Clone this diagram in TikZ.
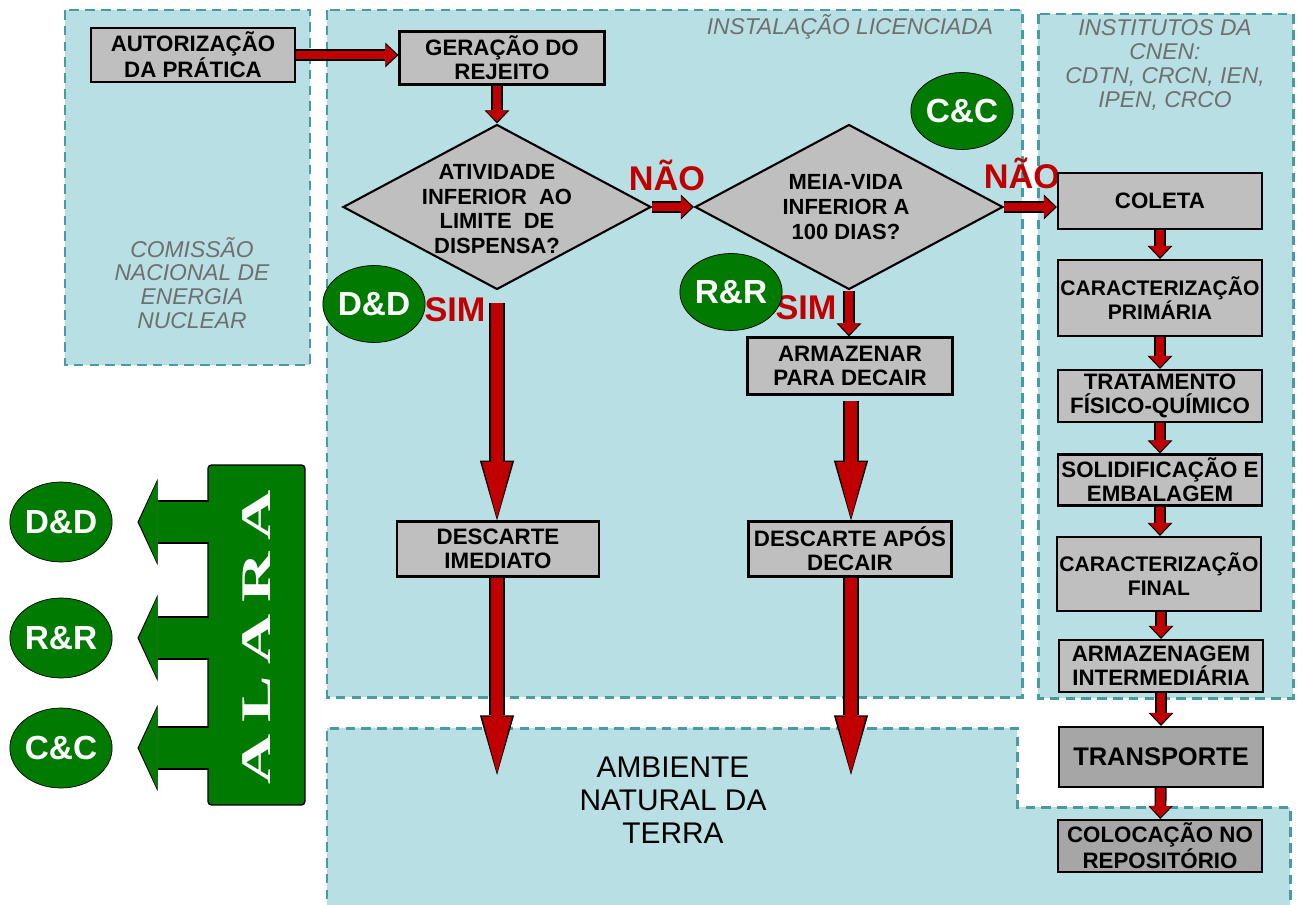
\documentclass[tikz,border=0pt]{standalone}
\usepackage{fontspec}
\setmainfont{Liberation Sans}
\newfontfamily\alarafont{Liberation Serif}
\usepackage{tikz}
\usetikzlibrary{arrows.meta,shapes.geometric,positioning}
\definecolor{zoneFill}{HTML}{B8DFE3}
\definecolor{zoneLine}{HTML}{4A9BA1}
\definecolor{boxGray}{HTML}{BFBFBF}
\definecolor{boxDark}{HTML}{A6A6A6}
\definecolor{flowRed}{HTML}{C00000}
\definecolor{sealGreen}{HTML}{007A00}
\definecolor{noteGray}{HTML}{6F6F6F}

\begin{document}
\begin{tikzpicture}[
  x=0.02cm, y=-0.02cm,
  every node/.style={font=\bfseries},
  zone/.style={draw=zoneLine, fill=zoneFill, line width=1.7pt, dash pattern=on 5.5pt off 3.5pt},
  note/.style={font=\itshape\fontsize{13}{13.6}\selectfont, text=noteGray, align=center},
  box/.style={
    draw=black, fill=boxGray, line width=1.2pt, align=center, inner sep=0pt,
    font=\bfseries\fontsize{12.7}{13.8}\selectfont, minimum width=4.08cm, minimum height=1.08cm,
  },
  narrowtext/.style={font=\bfseries\fontsize{12}{13.8}\selectfont},
  darkbox/.style={box, fill=boxDark},
  decision/.style={
    diamond, draw=black, fill=boxGray, line width=1.2pt, inner sep=0pt,
    minimum width=6.16cm, minimum height=3.3cm,
  },
  dtext/.style={align=center, font=\bfseries\fontsize{12.5}{14}\selectfont},
  seal/.style={
    ellipse, draw=black, fill=sealGreen, text=white, inner sep=0pt,
    font=\bfseries\fontsize{19}{19}\selectfont, minimum width=1.96cm, minimum height=1.54cm,
  },
  answer/.style={text=flowRed, font=\bfseries\fontsize{19.5}{19.5}\selectfont},
  flow/.style={
    draw=flowRed, line width=5pt, -{Triangle[length=6.3pt, width=12pt, line width=0pt]}, shorten >=1pt,
    preaction={draw=black, line width=6.8pt, -{Triangle[length=7.4pt, width=14pt, line width=0pt]}, shorten >=0pt},
  },
  longflow/.style={
    draw=flowRed, line width=7.2pt, -{Triangle[length=32pt, width=17pt, line width=0pt]}, shorten >=1.2pt,
    preaction={draw=black, line width=9pt, -{Triangle[length=34pt, width=19.5pt, line width=0pt]}, shorten >=0pt},
  },
  alarrow/.style={
    draw=sealGreen, line width=22.8pt, -{Triangle[length=10.6pt, width=47pt, line width=0pt]},
    shorten >=#1+0.8pt, shorten <=-1pt,
    preaction={draw=black, line width=24.5pt, -{Triangle[length=11.4pt, width=49pt, line width=0pt]}, shorten >=#1},
  },
  alaratext/.style={rotate=90, text=white, font=\alarafont\bfseries\fontsize{24}{24}\selectfont},
]

\useasboundingbox (0,0) rectangle (1297,905);

% === Zones ===
\draw[zone] (65,10) rectangle (310,365);
\draw[zone] (327,10) rectangle (1022,697);
\draw[zone] (1038,14) rectangle (1293,698);
\draw[zone] (327,915) -- (327,728) -- (1017,728) -- (1017,807) -- (1290,807) -- (1290,915);

\node[note] (cnenlabel) at (192,283) {COMISSÃO\\NACIONAL DE\\ENERGIA\\NUCLEAR};
\node[note] (instlabel) at (850,27) {INSTALAÇÃO LICENCIADA};
\node[note] (instituteslabel) at (1165,65) {INSTITUTOS DA\\CNEN:\\CDTN, CRCN, IEN,\\IPEN, CRCO};
\node[font=\fontsize{17}{18.7}\selectfont, align=center] (earth) at (673,800) {AMBIENTE\\NATURAL DA\\TERRA};

% === Licensed installation ===
\node[box] (auth) at (193,55) {AUTORIZAÇÃO\\DA PRÁTICA};
\node[box, minimum width=4.1cm, minimum height=1.06cm] (geracao) at (502,58) {GERAÇÃO DO\\REJEITO};
\node[decision, label={[dtext, yshift=-0.04cm]center:{ATIVIDADE\\INFERIOR~~AO\\LIMITE~~DE\\DISPENSA?}}] (d1) at (497,207) {};
\node[decision, label={[dtext, xshift=-0.06cm]center:{MEIA-VIDA\\INFERIOR A\\100 DIAS?}}] (d2) at (849,207) {};
\node[box, minimum width=4.04cm, minimum height=1.1cm] (descim) at (498,549) {DESCARTE\\IMEDIATO};
\node[box, minimum width=4.1cm, minimum height=1.14cm] (armaz) at (850,366) {ARMAZENAR\\PARA DECAIR};
\node[box, minimum width=4.06cm, minimum height=1.1cm] (descapos) at (850,549) {DESCARTE APÓS\\DECAIR};
\coordinate (sink1) at (497,775);
\coordinate (sink2) at (851,775);

\node[answer] (nao1) at (667,175) {NÃO};
\node[answer] (nao2) at (1022,173) {NÃO};
\node[answer] (sim1) at (455,310) {SIM};
\node[answer] (sim2) at (806,308) {SIM};

\node[seal] (cc1) at (962,111) {C\&C};
\node[seal] (dd1) at (374,304) {D\&D};
\node[seal] (rr1) at (731,292) {R\&R};

% === CNEN institutes ===
\node[box, minimum height=1.12cm] (coleta) at (1160,201) {COLETA};
\node[box, narrowtext, minimum height=1.52cm] (carprim) at (1160,298) {CARACTERIZAÇÃO\\PRIMÁRIA};
\node[box, minimum height=1.04cm] (trat) at (1160,396) {TRATAMENTO\\FÍSICO-QUÍMICO};
\node[box, minimum height=1.02cm] (solid) at (1160,480) {SOLIDIFICAÇÃO E\\EMBALAGEM};
\node[box, narrowtext, minimum height=1.48cm] (carfin) at (1159,574) {CARACTERIZAÇÃO\\FINAL};
\node[box, minimum height=1.04cm] (armint) at (1161,666) {ARMAZENAGEM\\INTERMEDIÁRIA};
\node[darkbox, minimum height=1.2cm, font=\bfseries\fontsize{14.5}{16}\selectfont] (transp) at (1161,757) {TRANSPORTE};
\node[darkbox, minimum height=1.04cm] (coloc) at (1160,846) {COLOCAÇÃO NO\\REPOSITÓRIO};

% === Flow arrows ===
\draw[flow] (auth.east) -- (geracao.west |- auth.east);
\draw[flow] (d1.north |- geracao.south) -- (d1.north);
\draw[flow] (d1.east) -- (d2.west);
\draw[flow] (d2.east) -- (coleta.west |- d2.east);
\draw[longflow, shorten <=0.24cm] (d1.south) -- (descim.north -| d1.south);
\draw[longflow] (descim.south -| sink1) -- (sink1);
\draw[flow] (d2.south) -- (armaz.north -| d2.south);
\draw[longflow, shorten <=0.1cm] (armaz.south -| sink2) -- (descapos.north -| sink2);
\draw[longflow] (descapos.south -| sink2) -- (sink2);
\draw[flow] (coleta) -- (carprim);
\draw[flow] (carprim) -- (trat);
\draw[flow] (trat) -- (solid);
\draw[flow] (solid) -- (carfin.north -| solid.south);
\draw[flow] (carfin.south -| armint.north) -- (armint);
\draw[flow] (armint) -- (transp);
\draw[flow] (transp) -- (coloc);

% === ALARA ===
\node[seal, minimum height=1.6cm] (dd2) at (61,522) {D\&D};
\node[seal, minimum height=1.6cm] (rr2) at (61,638) {R\&R};
\node[seal, minimum height=1.6cm] (cc2) at (61,748) {C\&C};
\node[draw=black, fill=sealGreen, line width=0.8pt, rounded corners=2pt,
  minimum width=1.94cm, minimum height=6.8cm,
  label={[alaratext, xshift=-0.05cm]center:{\scalebox{1.65}[1]{A\kern4pt L\kern4pt A\kern4pt R\kern4pt A}}}] (alara) at (256.5,635) {};
\draw[alarrow=0.5cm] (alara.west |- dd2) -- (dd2.east);
\draw[alarrow=0.5cm] (alara.west |- rr2) -- (rr2.east);
\draw[alarrow=0.5cm] (alara.west |- cc2) -- (cc2.east);

\end{tikzpicture}
\end{document}
